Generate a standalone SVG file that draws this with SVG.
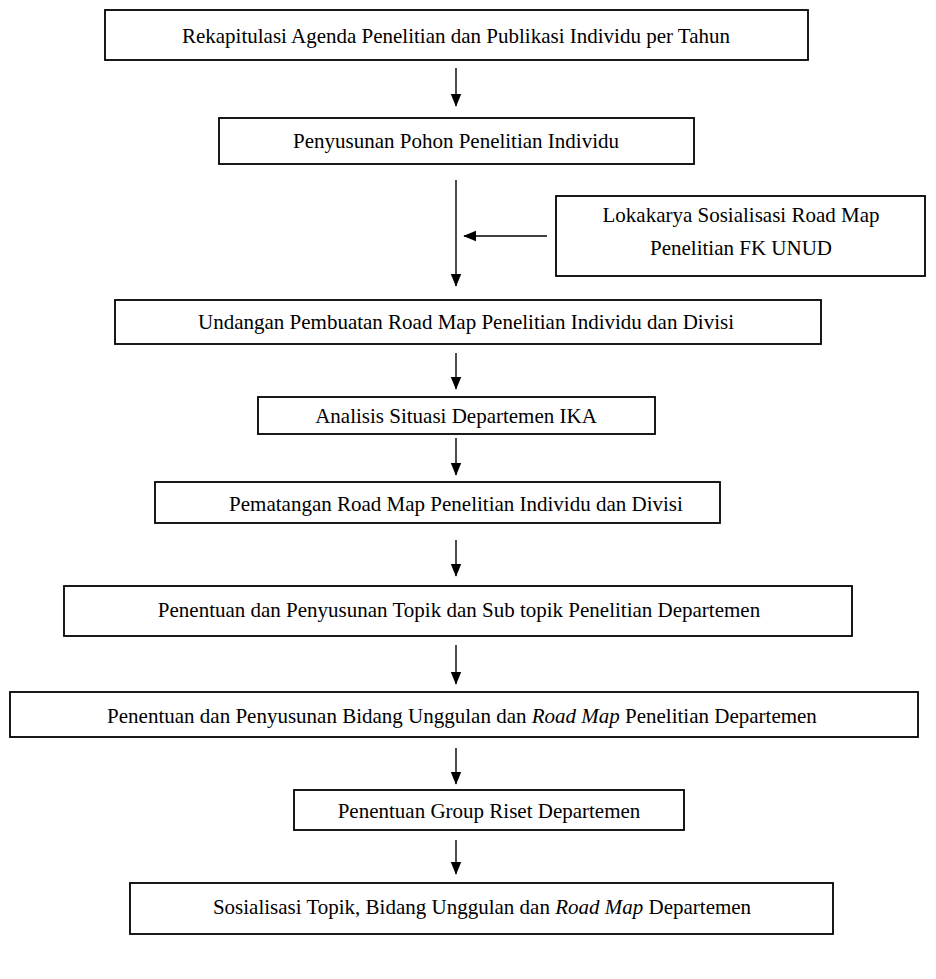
<svg xmlns="http://www.w3.org/2000/svg" width="936" height="979" viewBox="0 0 936 979">
<defs>
<marker id="ah" markerWidth="13" markerHeight="16" refX="15" refY="7" orient="auto" markerUnits="userSpaceOnUse" viewBox="0 0 16 14">
<path d="M0,0.5 L16,7 L0,13.5 Z" fill="#000"/>
</marker>
</defs>
<style>
.box{fill:#fff;stroke:#000;stroke-width:1.8}
text{font-family:"Liberation Serif","Times New Roman",serif;font-size:21px;fill:#000;text-anchor:middle}
.c line{stroke:#000;stroke-width:1.4;marker-end:url(#ah)}
</style>
<rect x="0" y="0" width="936" height="979" fill="#fff"/>
<g class="c" id="connectors">
<line x1="456" y1="68" x2="456" y2="106"/>
<line x1="456" y1="180" x2="456" y2="286"/>
<line x1="547" y1="236" x2="464" y2="236"/>
<line x1="456" y1="353" x2="456" y2="389"/>
<line x1="456" y1="438" x2="456" y2="475"/>
<line x1="456" y1="540" x2="456" y2="576"/>
<line x1="456" y1="645" x2="456" y2="684"/>
<line x1="456" y1="748" x2="456" y2="784"/>
<line x1="456" y1="840" x2="456" y2="874"/>
</g>
<g id="n1"><rect class="box" x="105" y="10" width="703" height="50"/><text x="456" y="43">Rekapitulasi Agenda Penelitian dan Publikasi Individu per Tahun</text></g>
<g id="n2"><rect class="box" x="219" y="118" width="475" height="46"/><text x="456" y="148">Penyusunan Pohon Penelitian Individu</text></g>
<g id="n3"><rect class="box" x="556" y="196" width="369" height="80"/><text x="741" y="222">Lokakarya Sosialisasi Road Map</text><text x="741" y="255">Penelitian FK UNUD</text></g>
<g id="n4"><rect class="box" x="115" y="300" width="706" height="44"/><text x="466" y="329">Undangan Pembuatan Road Map Penelitian Individu dan Divisi</text></g>
<g id="n5"><rect class="box" x="258" y="397" width="397" height="37"/><text x="456" y="423">Analisis Situasi Departemen IKA</text></g>
<g id="n6"><rect class="box" x="155" y="482" width="565" height="41"/><text x="456" y="511">Pematangan Road Map Penelitian Individu dan Divisi</text></g>
<g id="n7"><rect class="box" x="64" y="586" width="788" height="50"/><text x="459" y="617">Penentuan dan Penyusunan Topik dan Sub topik Penelitian Departemen</text></g>
<g id="n8"><rect class="box" x="10" y="692" width="908" height="45"/><text x="462" y="723">Penentuan dan Penyusunan Bidang Unggulan dan <tspan font-style="italic">Road Map</tspan> Penelitian Departemen</text></g>
<g id="n9"><rect class="box" x="294" y="790" width="390" height="40"/><text x="489" y="818">Penentuan Group Riset Departemen</text></g>
<g id="n10"><rect class="box" x="130" y="883" width="703" height="51"/><text x="482" y="914">Sosialisasi Topik, Bidang Unggulan dan <tspan font-style="italic">Road Map</tspan> Departemen</text></g>
</svg>
